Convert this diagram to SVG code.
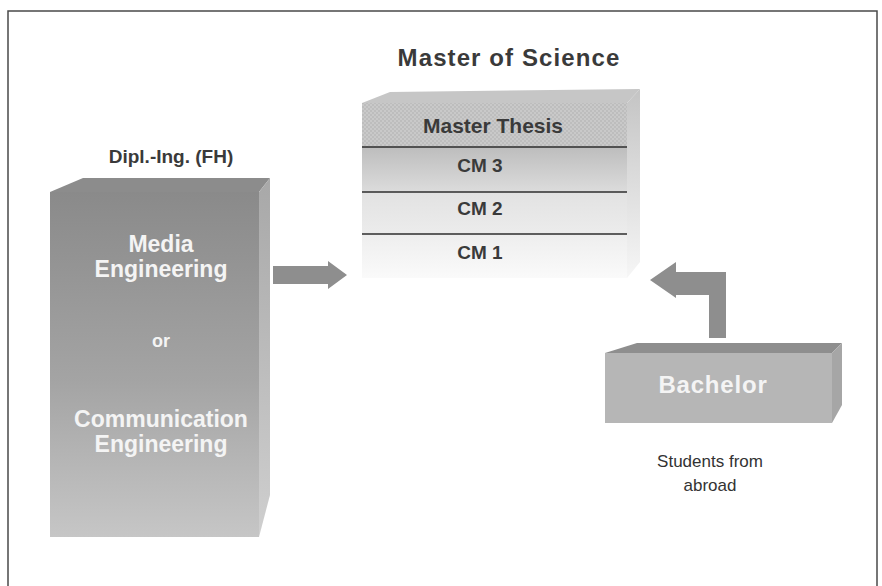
<svg xmlns="http://www.w3.org/2000/svg" width="882" height="586" viewBox="0 0 882 586">
<defs>
<style>
.t{font-family:"Liberation Sans",Arial,sans-serif;}
.dark{fill:#3a3a3a;}
.b{font-weight:bold;}
.w{fill:#f4f4f4;font-weight:bold;}
.cm{font-size:19px;font-weight:bold;fill:#3a3a3a;text-anchor:middle;}
.sep{stroke:#2e2e2e;stroke-width:1.5;}
.arrow{fill:#8e8e8e;}
</style>
<linearGradient id="leftFront" x1="0" y1="0" x2="0" y2="1">
<stop offset="0" stop-color="#8a8a8a"/>
<stop offset="0.55" stop-color="#a4a4a4"/>
<stop offset="1" stop-color="#c6c6c6"/>
</linearGradient>
<linearGradient id="leftSide" x1="0" y1="0" x2="0" y2="1">
<stop offset="0" stop-color="#a8a8a8"/>
<stop offset="1" stop-color="#cfcfcf"/>
</linearGradient>
<linearGradient id="cm3" x1="0" y1="0" x2="0" y2="1">
<stop offset="0" stop-color="#bdbdbd"/>
<stop offset="1" stop-color="#dcdcdc"/>
</linearGradient>
<linearGradient id="cm2" x1="0" y1="0" x2="0" y2="1">
<stop offset="0" stop-color="#e2e2e2"/>
<stop offset="1" stop-color="#ececec"/>
</linearGradient>
<linearGradient id="cm1" x1="0" y1="0" x2="0" y2="1">
<stop offset="0" stop-color="#eeeeee"/>
<stop offset="1" stop-color="#fafafa"/>
</linearGradient>
<linearGradient id="mSide" x1="0" y1="0" x2="0" y2="1">
<stop offset="0" stop-color="#c4c4c4"/>
<stop offset="1" stop-color="#f6f6f6"/>
</linearGradient>
<pattern id="hatch" width="4" height="4" patternUnits="userSpaceOnUse">
<rect width="4" height="4" fill="#c9c9c9"/>
<rect width="2" height="2" fill="#bdbdbd"/>
<rect x="2" y="2" width="2" height="2" fill="#bdbdbd"/>
</pattern>
</defs>
<rect width="882" height="586" fill="#ffffff"/>
<path d="M8,590 V11 H877 V590" fill="none" stroke="#4a4a4a" stroke-width="1.5"/>

<g id="title">
<text class="t dark b" x="509" y="66" font-size="24" text-anchor="middle" letter-spacing="1.1">Master of Science</text>
</g>

<g id="master">
<polygon points="362,103 390,92 640,89 627,103" fill="#c6c6c6"/>
<polygon points="627,103 640,89 640,262 627,278" fill="url(#mSide)"/>
<rect x="362" y="103" width="265" height="44" fill="url(#hatch)"/>
<rect x="362" y="147" width="265" height="45" fill="url(#cm3)"/>
<rect x="362" y="192" width="265" height="42" fill="url(#cm2)"/>
<rect x="362" y="234" width="265" height="44" fill="url(#cm1)"/>
<line class="sep" x1="362" y1="147" x2="627" y2="147"/>
<line class="sep" x1="362" y1="192" x2="627" y2="192"/>
<line class="sep" x1="362" y1="234" x2="627" y2="234"/>
<text class="t dark b" x="493" y="133" font-size="21" text-anchor="middle">Master Thesis</text>
<text class="t cm" x="480" y="172">CM 3</text>
<text class="t cm" x="480" y="215">CM 2</text>
<text class="t cm" x="480" y="259">CM 1</text>
</g>

<g id="diplom">
<text class="t dark b" x="171" y="163" font-size="19" text-anchor="middle">Dipl.-Ing. (FH)</text>
<polygon points="50,192 83,178 270,178 259,192" fill="#8c8c8c"/>
<polygon points="259,192 270,178 270,495 259,537" fill="url(#leftSide)"/>
<rect x="50" y="192" width="209" height="345" fill="url(#leftFront)"/>
<text class="t w" x="161" y="252" font-size="23" text-anchor="middle">Media</text>
<text class="t w" x="161" y="277" font-size="23" text-anchor="middle">Engineering</text>
<text class="t w" x="161" y="347" font-size="18" text-anchor="middle">or</text>
<text class="t w" x="161" y="427" font-size="23" text-anchor="middle">Communication</text>
<text class="t w" x="161" y="452" font-size="23" text-anchor="middle">Engineering</text>
</g>

<g id="bachelor">
<polygon points="605,353 637,343 842,343 832,353" fill="#8e8e8e"/>
<polygon points="832,353 842,343 842,405 832,423" fill="#a6a6a6"/>
<rect x="605" y="353" width="227" height="70" fill="#b6b6b6"/>
<text class="t w" x="713" y="393" font-size="24" text-anchor="middle" letter-spacing="0.8">Bachelor</text>
</g>

<g id="abroad">
<text class="t" x="710" y="467" font-size="17" fill="#333" text-anchor="middle">Students from</text>
<text class="t" x="710" y="491" font-size="17" fill="#333" text-anchor="middle">abroad</text>
</g>

<g id="connectors">
<polygon class="arrow" points="273,266 328,266 328,261 347,275 328,289 328,284 273,284"/>
<polygon class="arrow" points="650,280 676,262 676,272 726,272 726,338 709,338 709,295 676,295 676,298"/>
</g>
</svg>
